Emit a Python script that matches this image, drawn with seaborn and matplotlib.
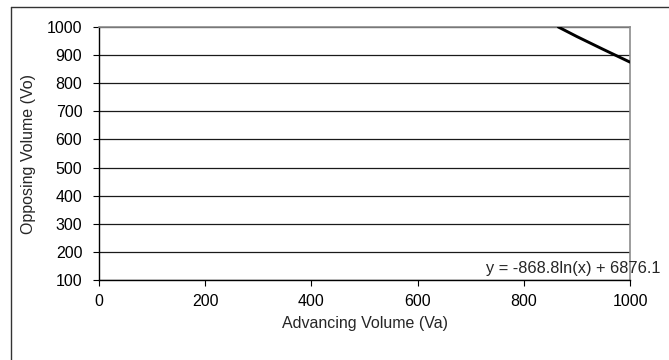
import matplotlib
matplotlib.use('Agg')
import matplotlib.pyplot as plt
from matplotlib.lines import Line2D
import seaborn as sns
import pandas as pd

# ── data ─────────────────────────────────────────────────────────────────────
va = [865, 900, 950, 1000]
vo = [1000, 966, 920, 875]
x_ticks = [0, 200, 400, 600, 800, 1000]
y_ticks = [100, 200, 300, 400, 500, 600, 700, 800, 900, 1000]
equation = 'y = -868.8ln(x) + 6876.1'

df = pd.DataFrame({'Va': va, 'Vo': vo})

sns.set_style('white')
plt.rcParams['font.family'] = ['Liberation Sans', 'DejaVu Sans']

W, H = 669, 360
fig = plt.figure(figsize=(W / 100, H / 100), dpi=100)
ax = fig.add_axes([99 / W, 1 - 280 / H, (630 - 99) / W, (280 - 27) / H])

for yv in y_ticks:
    ax.axhline(yv, color='#1a1a1a', lw=0.9, zorder=1)

sns.lineplot(data=df, x='Va', y='Vo', ax=ax, color='black', lw=2.1,
             zorder=3, clip_on=True)

ax.set_xlim(0, 1000)
ax.set_ylim(100, 1000)
ax.set_xticks(x_ticks)
ax.set_yticks(y_ticks)
ax.tick_params(axis='both', labelsize=11.5, colors='black', length=4, width=0.8,
               direction='out', bottom=True, left=True)
ax.tick_params(axis='y', pad=8)
ax.tick_params(axis='x', pad=6)
ax.set_xlabel('Advancing Volume (Va)', fontsize=11.5, labelpad=5)
ax.set_ylabel('Opposing Volume (Vo)', fontsize=11.5, labelpad=8)

for side in ['left', 'bottom']:
    ax.spines[side].set_color('black')
    ax.spines[side].set_linewidth(1.0)
for side in ['right', 'top']:
    ax.spines[side].set_color('#8c8c8c')
    ax.spines[side].set_linewidth(1.2)

ax.text(729, 140, equation, fontsize=11.8, ha='left', va='center',
        clip_on=False, zorder=4)

# outer chart frame (clipped on right and bottom)
fig.add_artist(Line2D([11 / W, 1], [1 - 7 / H, 1 - 7 / H], color='#333333',
                      lw=1.0, transform=fig.transFigure))
fig.add_artist(Line2D([11 / W, 11 / W], [0, 1 - 7 / H], color='#333333',
                      lw=1.0, transform=fig.transFigure))

fig.savefig('out.png', dpi=100, facecolor='white')
